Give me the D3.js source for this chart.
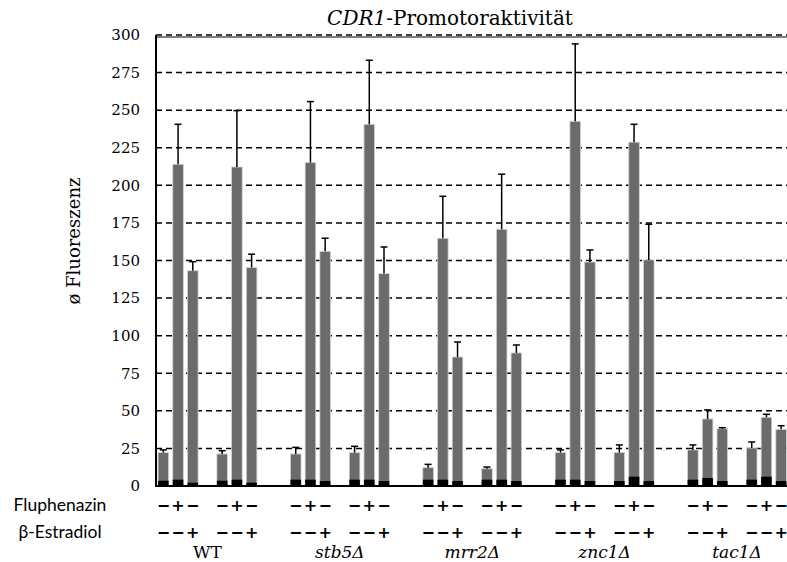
<!DOCTYPE html>
<html>
<head>
<meta charset="utf-8">
<script src="https://cdn.jsdelivr.net/npm/d3@7"></script>
<style>
  body { margin: 0; background: #fff; }
</style>
</head>
<body>
<svg id="chart" width="787" height="562"></svg>
<script>
// data
const strains = ["WT", "stb5Δ", "mrr2Δ", "znc1Δ", "tac1Δ"];
const replicates = ["1", "2"];
const fluphenazin = ["−", "+", "−"];
const estradiol = ["−", "−", "+"];
const yTicks = [0, 25, 50, 75, 100, 125, 150, 175, 200, 225, 250, 275, 300];

// mean fluorescence (grey bars), per strain -> replicate -> condition
const meanValues = [
  [[22.2, 214.0, 143.2], [21.3, 212.2, 145.3]],
  [[21.3, 215.1, 156.1], [22.2, 240.6, 141.3]],
  [[12.2, 164.8, 85.8], [11.5, 170.8, 88.5]],
  [[22.2, 242.6, 149.0], [22.2, 228.7, 150.4]],
  [[24.0, 44.6, 38.1], [25.3, 45.7, 37.7]]
];
// standard deviation (upper error bars)
const sdValues = [
  [[1.8, 26.6, 6.0], [2.2, 37.5, 8.9]],
  [[4.4, 40.6, 8.7], [4.2, 42.6, 17.7]],
  [[2.2, 27.9, 10.0], [1.1, 36.6, 5.3]],
  [[1.8, 51.5, 8.0], [5.1, 11.9, 23.7]],
  [[3.3, 6.0, 0.7], [4.0, 2.0, 2.4]]
];
// background fluorescence (black bars)
const backgroundValues = [
  [[3.5, 4.2, 2.2], [3.5, 4.2, 2.2]],
  [[4.2, 4.2, 3.3], [4.2, 4.2, 3.3]],
  [[4.2, 4.2, 3.3], [4.2, 4.2, 3.3]],
  [[4.2, 4.2, 3.3], [3.3, 6.2, 3.3]],
  [[4.2, 5.3, 3.3], [4.2, 6.2, 3.3]]
];

const plotLeft = 156, plotRight = 788.5, plotTop = 35, plotBottom = 486;

// flat list of bars + gap slots for the band scale
var bars = [];
var slots = [];
strains.forEach(function (s, si) {
  replicates.forEach(function (r, ri) {
    fluphenazin.forEach(function (f, ci) {
      const key = s + "|" + r + "|" + ci;
      slots.push(key);
      bars.push({
        key: key, strain: s, rep: r, cond: ci,
        mean: meanValues[si][ri][ci],
        sd: sdValues[si][ri][ci],
        bg: backgroundValues[si][ri][ci]
      });
    });
    // one empty slot between replicates, two between strains
    if (ri === 0) slots.push(s + "|gap");
    else if (si < strains.length - 1) { slots.push(s + "|gapA"); slots.push(s + "|gapB"); }
  });
});

const svg = d3.select("#chart");

const x = d3.scaleBand()
  .domain(slots)
  .range([plotLeft, plotRight])
  .paddingInner(0.28)
  .paddingOuter(0.14);

const y = d3.scaleLinear()
  .domain([0, 300])
  .range([plotBottom, plotTop]);

// dashed gridlines
svg.append("g")
  .selectAll("line")
  .data(yTicks.filter(d => d > 0))
  .join("line")
  .attr("x1", plotLeft)
  .attr("x2", 787)
  .attr("y1", d => y(d))
  .attr("y2", d => y(d))
  .attr("stroke", "#000")
  .attr("stroke-width", 1.5)
  .attr("stroke-dasharray", "6,4");

// top border of the plot area
svg.append("line")
  .attr("x1", plotLeft).attr("x2", 787)
  .attr("y1", y(300) + 2).attr("y2", y(300) + 2)
  .attr("stroke", "#000").attr("stroke-width", 1);

// tick labels
svg.append("g")
  .selectAll("text")
  .data(yTicks)
  .join("text")
  .attr("x", 140)
  .attr("y", d => y(d))
  .attr("dy", "0.35em")
  .attr("text-anchor", "end")
  .style("font-family", "DejaVu Serif")
  .style("font-size", "15px")
  .text(d => d);

// grey bars
svg.append("g")
  .selectAll("rect")
  .data(bars)
  .join("rect")
  .attr("x", d => x(d.key))
  .attr("width", x.bandwidth())
  .attr("y", d => y(d.mean))
  .attr("height", d => y(0) - y(d.mean))
  .attr("fill", "#6b6b6b")
  .attr("stroke", "#d4d4d4")
  .attr("stroke-width", 0.8);

// black background bars
svg.append("g")
  .selectAll("rect")
  .data(bars)
  .join("rect")
  .attr("x", d => x(d.key))
  .attr("width", x.bandwidth())
  .attr("y", d => y(d.bg))
  .attr("height", d => y(0) - y(d.bg))
  .attr("fill", "#000");

// error bars (upper only)
const err = svg.append("g")
  .selectAll("g")
  .data(bars)
  .join("g")
  .attr("stroke", "#000")
  .attr("stroke-width", 1.5);

err.append("line")
  .attr("x1", d => x(d.key) + x.bandwidth() / 2)
  .attr("x2", d => x(d.key) + x.bandwidth() / 2)
  .attr("y1", d => y(d.mean))
  .attr("y2", d => y(d.mean + d.sd));

err.append("line")
  .attr("x1", d => x(d.key) + x.bandwidth() / 2 - 3.5)
  .attr("x2", d => x(d.key) + x.bandwidth() / 2 + 3.5)
  .attr("y1", d => y(d.mean + d.sd))
  .attr("y2", d => y(d.mean + d.sd));

// axes lines
svg.append("line")
  .attr("x1", plotLeft).attr("x2", plotLeft)
  .attr("y1", plotTop).attr("y2", plotBottom + 1)
  .attr("stroke", "#000").attr("stroke-width", 2);
svg.append("line")
  .attr("x1", plotLeft - 1).attr("x2", 787)
  .attr("y1", plotBottom).attr("y2", plotBottom)
  .attr("stroke", "#000").attr("stroke-width", 2);

// title
svg.append("text")
  .attr("x", 450)
  .attr("y", 25)
  .attr("text-anchor", "middle")
  .style("font-family", "DejaVu Serif")
  .style("font-size", "20px")
  .call(t => {
    t.append("tspan").style("font-style", "italic").text("CDR1");
    t.append("tspan").text("-Promotoraktivität");
  });

// y axis label
svg.append("text")
  .attr("transform", "translate(80,241) rotate(-90)")
  .attr("text-anchor", "middle")
  .attr("font-family", "DejaVu Serif")
  .attr("font-size", 18)
  .text("ø Fluoreszenz");

// treatment rows
const rowLabels = [["Fluphenazin", fluphenazin, 505], ["β-Estradiol", estradiol, 532]];
rowLabels.forEach(function (row) {
  svg.append("text")
    .attr("x", 60)
    .attr("y", row[2])
    .attr("dy", "0.35em")
    .attr("text-anchor", "middle")
    .style("font-family", "Lato")
    .style("font-size", "17.5px")
    .text(row[0]);

  svg.append("g")
    .selectAll("text")
    .data(bars)
    .join("text")
    .attr("x", d => x(d.key) + x.bandwidth() / 2)
    .attr("y", row[2])
    .attr("dy", "0.35em")
    .attr("text-anchor", "middle")
    .style("font-family", "DejaVu Sans")
    .style("font-weight", "bold")
    .style("font-size", "16px")
    .text(d => row[1][d.cond]);
});

// strain labels
svg.append("g")
  .selectAll("text")
  .data(strains)
  .join("text")
  .attr("x", s => (x(s + "|1|0") + x(s + "|2|2") + x.bandwidth()) / 2)
  .attr("y", 558)
  .attr("text-anchor", "middle")
  .attr("font-family", "DejaVu Serif")
  .attr("font-size", 17)
  .attr("font-style", s => s === "WT" ? "normal" : "italic")
  .text(s => s);
</script>
</body>
</html>
